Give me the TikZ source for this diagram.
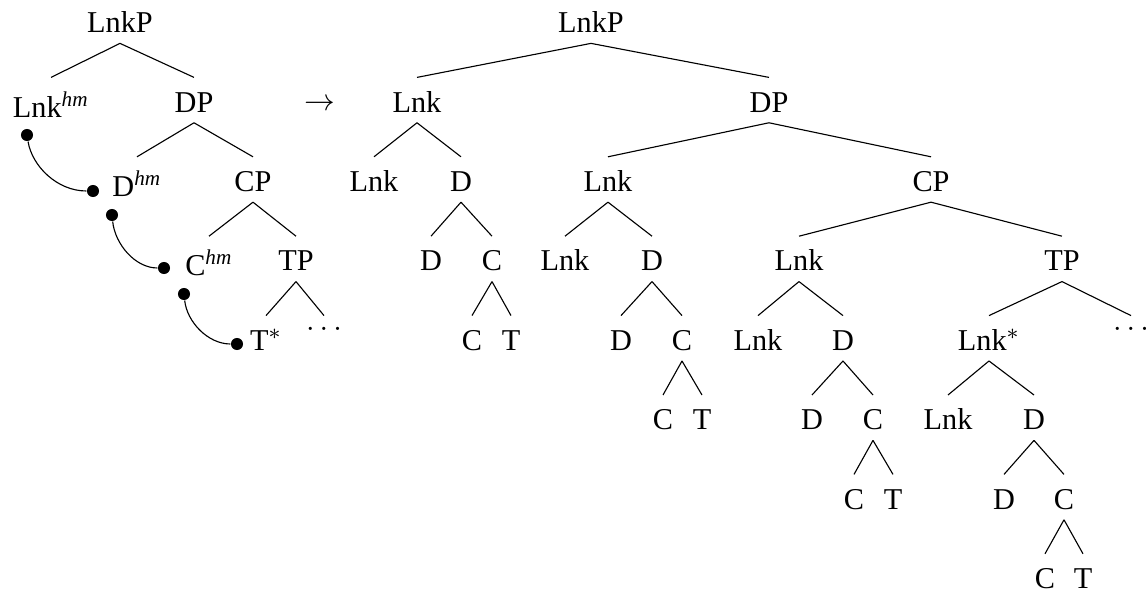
\documentclass[tikz,border=0pt]{standalone}
\usepackage{fontspec}
\setmainfont{Liberation Serif}

\begin{document}
\begin{tikzpicture}[
x=0.357pt, y=-0.357pt, font=\fontsize{10.8pt}{13pt}\selectfont,
tn/.style={anchor=north, inner ysep=3.6pt, text height=8.6pt, text depth=0pt},
hm/.style={tn, text height=10.4pt},
dts/.style={tn, text height=1.5pt},
blt/.style={circle, fill=black, inner sep=0pt, minimum size=4.3pt},
]
\useasboundingbox (0,0) rectangle (1146,592);

\node[tn] (lLnkP) at (120,-2) {LnkP};
\node[hm] (lLnk) at (51,77.4) {Lnk\textsuperscript{\itshape hm}};
\node[tn] (lDP) at (194,77.4) {DP};
\node[hm] (lD) at (137,156.8) {D\textsuperscript{\itshape hm}};
\node[tn] (lCP) at (253,156.8) {CP};
\node[hm] (lC) at (209,236.2) {C\textsuperscript{\itshape hm}};
\node[tn] (lTP) at (296,236.2) {TP};
\node[tn] (lT) at (266,315.6) {T$^*$};
\node[dts] (lDots) at (324,315.6) {$\ldots$};

\foreach \a/\b in {lLnkP/lLnk, lLnkP/lDP, lDP/lD, lDP/lCP, lCP/lC, lCP/lTP, lTP/lT, lTP/lDots}
  \draw (\a.south) -- (\b.north);

\node[blt] (b1) at (27,135) {};
\node[blt] (b2) at (93,191) {};
\node[blt] (b3) at (112,215) {};
\node[blt] (b4) at (164,268) {};
\node[blt] (b5) at (184,294) {};
\node[blt] (b6) at (237,344) {};
\draw (b1) .. controls +(5,31) and +(-36,0) .. (b2);
\draw (b3) .. controls +(3,29) and +(-29,0) .. (b4);
\draw (b5) .. controls +(3,28) and +(-29,0) .. (b6);

\node (arr) at (320,111) [anchor=base] {$\rightarrow$};

\node[tn] (rLnkP) at (591,-2) {LnkP};
\node[tn] (rLnk1) at (417,77.4) {Lnk};
\node[tn] (rDP) at (769,77.4) {DP};
\node[tn] (rLnk1a) at (374,156.8) {Lnk};
\node[tn] (rD1) at (461,156.8) {D};
\node[tn] (rLnk2) at (608,156.8) {Lnk};
\node[tn] (rCP) at (931,156.8) {CP};
\node[tn] (rD1a) at (431,236.2) {D};
\node[tn] (rC1) at (492,236.2) {C};
\node[tn] (rLnk2a) at (565,236.2) {Lnk};
\node[tn] (rD2) at (652,236.2) {D};
\node[tn] (rLnk3) at (799,236.2) {Lnk};
\node[tn] (rTP) at (1062,236.2) {TP};
\node[tn] (rC1a) at (472,315.6) {C};
\node[tn] (rT1) at (511,315.6) {T};
\node[tn] (rD2a) at (621,315.6) {D};
\node[tn] (rC2) at (682,315.6) {C};
\node[tn] (rLnk3a) at (758,315.6) {Lnk};
\node[tn] (rD3) at (843,315.6) {D};
\node[tn] (rLnk4) at (989,315.6) {Lnk$^*$};
\node[dts] (rDots) at (1131,315.6) {$\ldots$};
\node[tn] (rC2a) at (663,395) {C};
\node[tn] (rT2) at (702,395) {T};
\node[tn] (rD3a) at (812,395) {D};
\node[tn] (rC3) at (873,395) {C};
\node[tn] (rLnk4a) at (948,395) {Lnk};
\node[tn] (rD4) at (1034,395) {D};
\node[tn] (rC3a) at (854,474.4) {C};
\node[tn] (rT3) at (893,474.4) {T};
\node[tn] (rD4a) at (1004,474.4) {D};
\node[tn] (rC4) at (1064,474.4) {C};
\node[tn] (rC4a) at (1045,553.8) {C};
\node[tn] (rT4) at (1083,553.8) {T};

\foreach \a/\b in {rLnkP/rLnk1, rLnkP/rDP, rLnk1/rLnk1a, rLnk1/rD1, rD1/rD1a, rD1/rC1,
    rC1/rC1a, rC1/rT1, rDP/rLnk2, rDP/rCP, rLnk2/rLnk2a, rLnk2/rD2, rD2/rD2a, rD2/rC2,
    rC2/rC2a, rC2/rT2, rCP/rLnk3, rCP/rTP, rLnk3/rLnk3a, rLnk3/rD3, rD3/rD3a, rD3/rC3,
    rC3/rC3a, rC3/rT3, rTP/rLnk4, rTP/rDots, rLnk4/rLnk4a, rLnk4/rD4, rD4/rD4a, rD4/rC4,
    rC4/rC4a, rC4/rT4}
  \draw (\a.south) -- (\b.north);

\end{tikzpicture}
\end{document}
